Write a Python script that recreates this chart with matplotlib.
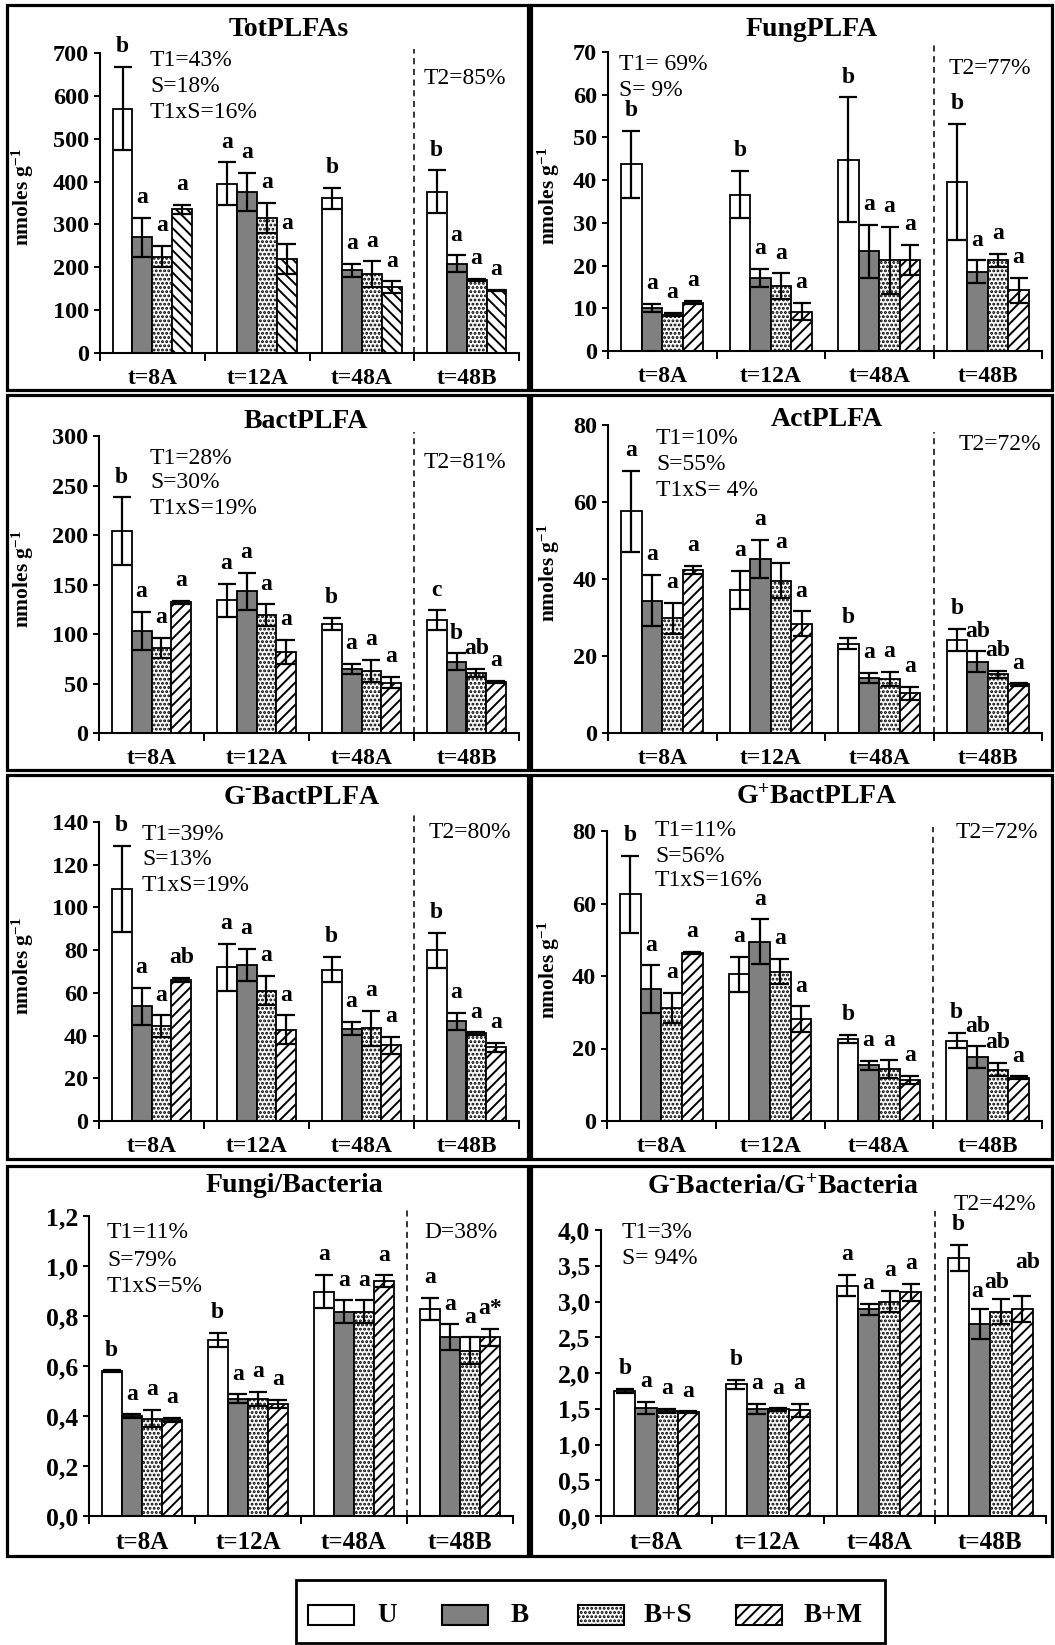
import matplotlib
matplotlib.use('Agg')
import matplotlib.pyplot as plt
from matplotlib.patches import Rectangle
import numpy as np

# ---------------- data ----------------
groups = ['t=8A', 't=12A', 't=48A', 't=48B']
treatments = ['U', 'B', 'B+S', 'B+M']

tot_mean = [[570, 270, 225, 335], [395, 376, 316, 219], [361, 193, 184, 153], [376, 208, 170, 146]]
tot_err = [[97, 45, 25, 10], [50, 45, 35, 35], [24, 15, 30, 14], [50, 20, 3, 2]]
tot_let = [['b', 'a', 'a', 'a'], ['a', 'a', 'a', 'a'], ['b', 'a', 'a', 'a'], ['b', 'a', 'a', 'a']]

fung_mean = [[43.7, 10.1, 8.5, 11.3], [36.6, 17.2, 15.2, 9.2], [44.8, 23.4, 21.2, 21.3], [39.6, 18.6, 21.2, 14.2]]
fung_err = [[7.8, 1.0, 0.4, 0.4], [5.5, 2.1, 3.0, 2.0], [14.6, 6.2, 7.8, 3.6], [13.5, 2.6, 1.5, 2.9]]
fung_let = [['b', 'a', 'a', 'a'], ['b', 'a', 'a', 'a'], ['b', 'a', 'a', 'a'], ['b', 'a', 'a', 'a']]

bact_mean = [[204, 103, 86, 132], [134, 143, 119, 82], [110, 65, 63, 51], [114, 72, 61, 52]]
bact_err = [[34, 19, 10, 1.5], [17, 19, 11, 12], [6, 5, 11, 5.5], [10, 8.5, 4, 1]]
bact_let = [['b', 'a', 'a', 'a'], ['a', 'a', 'a', 'a'], ['b', 'a', 'a', 'a'], ['c', 'b', 'ab', 'a']]

act_mean = [[57.6, 34.4, 29.8, 42.4], [37.2, 45.2, 39.6, 28.4], [23.2, 14.4, 14.0, 10.3], [24.2, 18.5, 15.2, 12.6]]
act_err = [[10.5, 6.6, 4.0, 1.0], [5.0, 5.0, 4.5, 3.2], [1.5, 1.3, 1.8, 1.6], [2.8, 2.7, 1.0, 0.3]]
act_let = [['a', 'a', 'a', 'a'], ['a', 'a', 'a', 'a'], ['b', 'a', 'a', 'a'], ['b', 'ab', 'ab', 'a']]

gneg_mean = [[108.7, 53.8, 44.3, 66.1], [72, 73.1, 61, 42.7], [70.9, 43.3, 43.5, 35.5], [79.9, 46.7, 41, 34.5]]
gneg_err = [[20, 8.7, 5.2, 0.8], [11, 7.6, 6.8, 6.8], [6, 3.2, 8.2, 4], [8.2, 4, 0.5, 2.2]]
gneg_let = [['b', 'a', 'a', 'ab'], ['a', 'a', 'a', 'a'], ['b', 'a', 'a', 'a'], ['b', 'a', 'a', 'a']]

gpos_mean = [[62.6, 36.4, 31.2, 46.3], [40.5, 49.4, 41.2, 28.1], [22.6, 15.4, 14.3, 11.4], [22.2, 17.6, 14.2, 12.0]]
gpos_err = [[10.6, 6.5, 4.2, 0.3], [4.8, 6.2, 3.5, 3.5], [1.2, 1.2, 2.4, 1.1], [2.1, 3.0, 1.8, 0.3]]
gpos_let = [['b', 'a', 'a', 'a'], ['a', 'a', 'a', 'a'], ['b', 'a', 'a', 'a'], ['b', 'ab', 'ab', 'a']]

fb_mean = [[0.58, 0.40, 0.39, 0.385], [0.705, 0.47, 0.468, 0.448], [0.898, 0.818, 0.818, 0.94], [0.828, 0.715, 0.662, 0.716]]
fb_err = [[0.003, 0.007, 0.035, 0.007], [0.027, 0.017, 0.028, 0.016], [0.067, 0.045, 0.045, 0.023], [0.044, 0.052, 0.053, 0.034]]
fb_let = [['b', 'a', 'a', 'a'], ['b', 'a', 'a', 'a'], ['a', 'a', 'a', 'a'], ['a', 'a', 'a', 'a*']]

gg_mean = [[1.75, 1.51, 1.47, 1.45], [1.84, 1.50, 1.49, 1.48], [3.22, 2.89, 3.0, 3.13], [3.61, 2.68, 2.86, 2.89]]
gg_err = [[0.03, 0.09, 0.03, 0.015], [0.06, 0.07, 0.015, 0.09], [0.15, 0.08, 0.15, 0.12], [0.18, 0.21, 0.18, 0.18]]
gg_let = [['b', 'a', 'a', 'a'], ['b', 'a', 'a', 'a'], ['a', 'a', 'a', 'a'], ['b', 'a', 'ab', 'ab']]

titles = ['TotPLFAs', 'FungPLFA', 'BactPLFA', 'ActPLFA',
          r'G$^{\text{-}}$BactPLFA', r'G$^{+}$BactPLFA', 'Fungi/Bacteria',
          r'G$^{\text{-}}$Bacteria/G$^{+}$Bacteria']
y_ticks = [np.arange(0, 701, 100), np.arange(0, 71, 10), np.arange(0, 301, 50),
           np.arange(0, 81, 20), np.arange(0, 141, 20), np.arange(0, 81, 20),
           np.arange(0, 1.21, 0.2), np.arange(0, 4.01, 0.5)]
stats = [['T1=43%', 'S=18%', 'T1xS=16%'], ['T1= 69%', 'S= 9%'],
         ['T1=28%', 'S=30%', 'T1xS=19%'], ['T1=10%', 'S=55%', 'T1xS= 4%'],
         ['T1=39%', 'S=13%', 'T1xS=19%'], ['T1=11%', 'S=56%', 'T1xS=16%'],
         ['T1=11%', 'S=79%', 'T1xS=5%'], ['T1=3%', 'S= 94%']]
stat2 = ['T2=85%', 'T2=77%', 'T2=81%', 'T2=72%', 'T2=80%', 'T2=72%', 'D=38%', 'T2=42%']

means = [tot_mean, fung_mean, bact_mean, act_mean, gneg_mean, gpos_mean, fb_mean, gg_mean]
errs = [tot_err, fung_err, bact_err, act_err, gneg_err, gpos_err, fb_err, gg_err]
lets = [tot_let, fung_let, bact_let, act_let, gneg_let, gpos_let, fb_let, gg_let]

# ---------------- style ----------------
plt.rcParams['font.family'] = ['Liberation Serif', 'DejaVu Serif']
plt.rcParams['mathtext.fontset'] = 'custom'
plt.rcParams['mathtext.rm'] = 'Liberation Serif:bold'
plt.rcParams['mathtext.bf'] = 'Liberation Serif:bold'
plt.rcParams['mathtext.it'] = 'Liberation Serif:bold'
plt.rcParams['mathtext.default'] = 'bf'
plt.rcParams['hatch.linewidth'] = 1.4

W, H = 1055, 1645
fig = plt.figure(figsize=(W / 100, H / 100), dpi=100)


def fx(px):
    return px / W


def fy(py):
    return 1 - py / H


# layout in pixels: axes (left, right, top, bottom), box (l, r, t, b)
ax_px = [(100, 519, 53, 353), (608, 1042, 52, 351),
         (99, 519, 436, 733), (608, 1042, 425, 733),
         (99, 519, 822, 1121), (607, 1042, 831, 1121),
         (89, 513, 1216, 1516), (601, 1046, 1230, 1516)]
box_px = [(7, 528, 5, 390), (531, 1052, 5, 390),
          (7, 528, 395, 770), (531, 1052, 395, 770),
          (7, 528, 775, 1159), (531, 1052, 775, 1159),
          (7, 528, 1166, 1556), (531, 1052, 1166, 1556)]
title_px = [(289, 30), (812, 29), (306, 422), (827, 419),
            (302, 797), (817, 797), (294, 1185), (783, 1187)]
stat_px = [(150, 61), (619, 64), (150, 458), (656, 439),
           (142, 834), (655, 831), (107, 1233), (622, 1233)]
stat_dy = [25.5, 26, 25, 25.5, 25.5, 25, 27, 25]
stat2_px = [(424, 78), (949, 68), (424, 463), (959, 444),
            (429, 832), (956, 832), (424, 1233), (954, 1204)]
dash_top_px = [49, 44, 432, 432, 812, 827, 1209, 1211]
ylabel_x_px = [36, 562, 36, 562, 36, 562]
# special letter offsets in points: (panel, group, treatment) -> (dx, dy)
letter_offsets = {(7, 3, 2): (-3, 4), (7, 3, 3): (4, 17), (7, 3, 1): (-2, 5)}

face = ['white', '#808080', 'white', 'white']
width = 0.19
offsets = (np.arange(4) - 1.5) * width
x = np.arange(len(groups))

for p in range(8):
    l, r, t, b = ax_px[p]
    ax = fig.add_axes([fx(l), fy(b), (r - l) / W, (b - t) / H])
    bottom_row = p >= 6
    yfs = 18.5 if bottom_row else 17.5
    xfs = 18 if bottom_row else 17
    hatches = [None, None, '....', '\\\\\\' if p == 0 else '///']
    m = np.array(means[p])
    e = np.array(errs[p])
    for j in range(4):
        ax.bar(x + offsets[j], m[:, j], width, yerr=e[:, j], color=face[j],
               edgecolor='black', hatch=hatches[j], linewidth=1.3, zorder=2,
               error_kw=dict(ecolor='black', elinewidth=1.6, capsize=6.5,
                             capthick=1.6, zorder=3))
        for g in range(4):
            off = letter_offsets.get((p, g, j), (0, 7))
            ax.annotate(lets[p][g][j], xy=(x[g] + offsets[j], m[g, j] + e[g, j]),
                        xytext=off, textcoords='offset points', ha='center',
                        va='bottom', fontsize=17, fontweight='bold', zorder=4)
    yt = y_ticks[p]
    ymax = yt[-1]
    ax.set_xlim(-0.5, 3.5)
    ax.set_ylim(0, ymax)
    ax.set_yticks(yt)
    if bottom_row:
        ax.set_yticklabels([f'{v:.1f}'.replace('.', ',') for v in yt])
    else:
        ax.set_yticklabels([f'{int(round(v))}' for v in yt])
    ax.set_xticks([-0.5, 0.5, 1.5, 2.5, 3.5])
    ax.set_xticklabels([])
    ax.set_xticks(x, minor=True)
    ax.set_xticklabels(groups, minor=True)
    ax.tick_params(axis='x', which='major', direction='out', length=6, width=1.4)
    ax.tick_params(axis='x', which='minor', length=0, pad=11, labelsize=xfs)
    ax.tick_params(axis='y', direction='out', length=4, width=1.4, pad=4, labelsize=yfs)
    for lab in ax.get_xticklabels(minor=True) + ax.get_yticklabels():
        lab.set_fontweight('bold')
    for s in ['top', 'right']:
        ax.spines[s].set_visible(False)
    for s in ['left', 'bottom']:
        ax.spines[s].set_linewidth(1.5)
    ax.patch.set_alpha(0)
    # dashed separator
    top_frac = (b - dash_top_px[p]) / (b - t)
    ax.plot([2.5, 2.5], [0, top_frac * ymax], ls=(0, (4, 3)), color='black',
            lw=1.1, clip_on=False, zorder=1)
    if not bottom_row:
        ax.set_ylabel(r'nmoles g$^{\mathbf{-1}}$', fontsize=15.5, fontweight='bold')
        ax.yaxis.set_label_coords((ylabel_x_px[p] - l) / (r - l), 0.52)
    # box
    bl, br, bt, bb = box_px[p]
    fig.add_artist(Rectangle((fx(bl), fy(bb)), (br - bl) / W, (bb - bt) / H,
                             transform=fig.transFigure, fill=False,
                             edgecolor='black', linewidth=2.3))
    # title
    fig.text(fx(title_px[p][0]), fy(title_px[p][1]), titles[p], ha='center',
             va='center', fontsize=20, fontweight='bold')
    # statistics
    sx, sy = stat_px[p]
    for k, line in enumerate(stats[p]):
        fig.text(fx(sx), fy(sy + k * stat_dy[p]), line, ha='left', va='center',
                 fontsize=17)
    fig.text(fx(stat2_px[p][0]), fy(stat2_px[p][1]), stat2[p], ha='left',
             va='center', fontsize=17)

# legend
fig.add_artist(Rectangle((fx(296), fy(1643)), (885 - 296) / W, (1643 - 1580) / H,
                         transform=fig.transFigure, fill=False, edgecolor='black',
                         linewidth=2.0))
leg_patch_x = [308, 442, 578, 736]
leg_text_x = [377, 511, 644, 804]
leg_hatch = [None, None, '....', '///']
for j in range(4):
    fig.add_artist(Rectangle((fx(leg_patch_x[j]), fy(1625)), 46 / W, 20 / H,
                             transform=fig.transFigure, facecolor=face[j],
                             edgecolor='black', hatch=leg_hatch[j], linewidth=1.5))
    fig.text(fx(leg_text_x[j]), fy(1615), treatments[j], ha='left', va='center',
             fontsize=19.5, fontweight='bold')

fig.savefig('out.png', dpi=100)
